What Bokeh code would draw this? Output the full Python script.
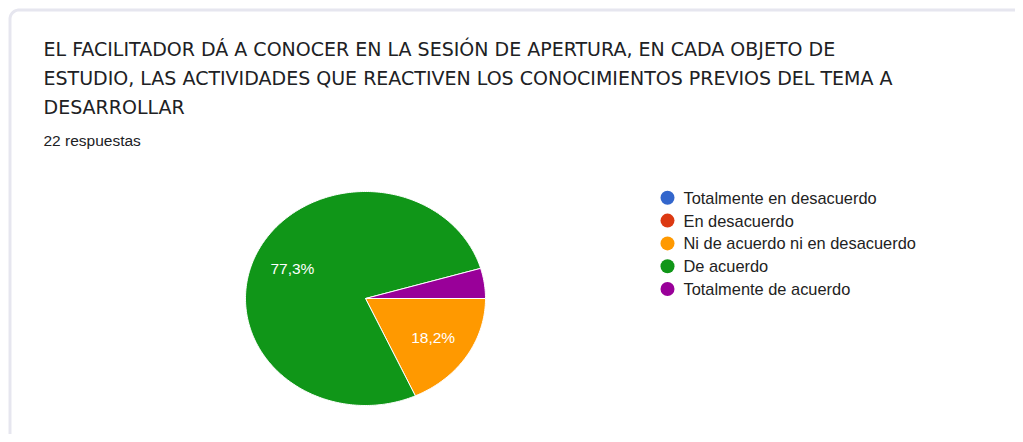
import numpy as np
from bokeh.plotting import figure
from bokeh.models import Range1d
from bokeh.core.properties import value
from bokeh.embed import file_html
from bokeh.resources import INLINE

title_lines = [
    "EL FACILITADOR DÁ A CONOCER EN LA SESIÓN DE APERTURA, EN CADA OBJETO DE",
    "ESTUDIO, LAS ACTIVIDADES QUE REACTIVEN LOS CONOCIMIENTOS PREVIOS DEL TEMA A",
    "DESARROLLAR",
]
subtitle = "22 respuestas"
categories = [
    "Totalmente en desacuerdo",
    "En desacuerdo",
    "Ni de acuerdo ni en desacuerdo",
    "De acuerdo",
    "Totalmente de acuerdo",
]
counts = [0, 0, 4, 17, 1]
colors = ["#3366cc", "#dc3912", "#ff9900", "#109618", "#990099"]

W, H = 1015, 434
p = figure(width=W, height=H, output_backend="svg", toolbar_location=None,
           x_range=Range1d(0, W), y_range=Range1d(H, 0), min_border=0)
p.axis.visible = False
p.grid.visible = False
p.outline_line_color = None
p.background_fill_color = "white"
p.border_fill_color = "white"

# card edge: left and top with a rounded corner (only these are visible in the reference)
e, r = 9.5, 9.0
ta = np.linspace(np.pi, 1.5 * np.pi, 12)
bx = np.concatenate([[e], e + r + r * np.cos(ta), [W + 5]])
by = np.concatenate([[H + 5], e + r + r * np.sin(ta), [e]])
p.line(bx, by, line_color="#e6e6ef", line_width=3)

# title
for i, line in enumerate(title_lines):
    p.text(x=[43], y=[48 + i * 29], text=[line], text_font=value("DejaVu Sans"),
           text_font_size="19px", text_color="#202124", text_baseline="middle")
p.text(x=[43], y=[140], text=[subtitle], text_font=value("Liberation Sans"),
       text_font_size="15.5px", text_color="#202124", text_baseline="middle")

# pie (clockwise from 3 o'clock, screen y down)
cx, cy, rx, ry = 365, 298, 120, 107
total = sum(counts)
start = 0.0
for c, col in zip(counts, colors):
    if c == 0:
        continue
    frac = c / total
    end = start + frac * 2 * np.pi
    t = np.linspace(start, end, max(int(frac * 400), 8))
    xs = np.concatenate([[cx], cx + rx * np.cos(t), [cx]])
    ys = np.concatenate([[cy], cy + ry * np.sin(t), [cy]])
    p.patch(xs, ys, fill_color=col, line_color="white", line_width=1)
    if frac >= 0.05:
        mid = (start + end) / 2
        lab = f"{frac*100:.1f}%".replace(".", ",")
        p.text(x=[cx + 0.67 * rx * np.cos(mid)], y=[cy + 0.67 * ry * np.sin(mid)],
               text=[lab], text_font=value("Liberation Sans"), text_font_size="15.5px",
               text_color="white", text_align="center", text_baseline="middle")
    start = end

# legend
lx, ly, dy = 667, 197.3, 22.8
for i, (cat, col) in enumerate(zip(categories, colors)):
    p.scatter(x=[lx], y=[ly + i * dy], size=14, fill_color=col, line_color=None)
    p.text(x=[lx + 16], y=[ly + i * dy], text=[cat], text_font=value("Liberation Sans"),
           text_font_size="16.4px", text_color="#222222", text_baseline="middle")

open("out.html", "w").write(file_html(p, INLINE))
